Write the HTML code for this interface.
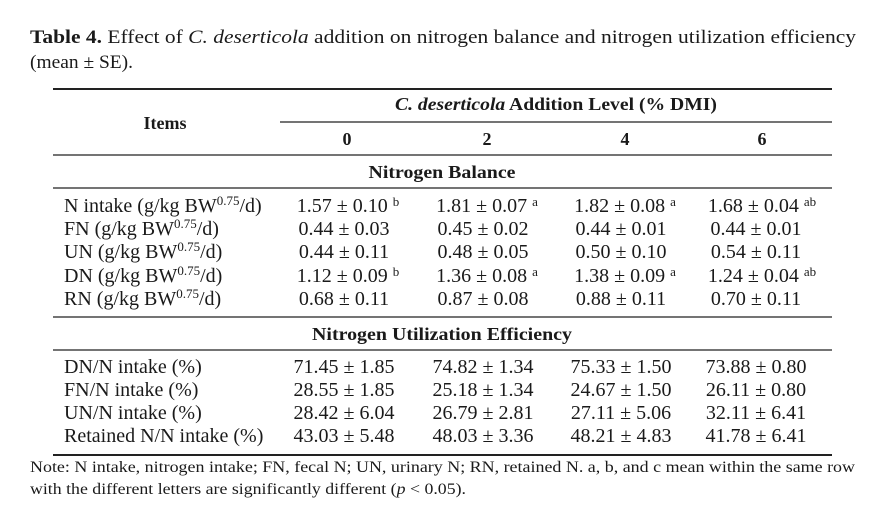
<!DOCTYPE html>
<html><head><meta charset="utf-8"><style>
html,body{margin:0;padding:0;background:#fff;}
svg{display:block;}
text{font-family:"Liberation Serif",serif;fill:#1a1a1a;}
</style></head><body>
<svg width="876" height="517" viewBox="0 0 876 517" xmlns="http://www.w3.org/2000/svg">
<g font-size="19">
<text x="30" y="43" textLength="826" lengthAdjust="spacingAndGlyphs"><tspan font-weight="bold">Table 4.</tspan>  Effect of <tspan font-style="italic">C. deserticola</tspan> addition on nitrogen balance and nitrogen utilization efficiency</text>
<text x="30" y="68" textLength="103" lengthAdjust="spacingAndGlyphs">(mean ± SE).</text>
</g>
<g stroke="#222">
<line x1="53" x2="832" y1="89" y2="89" stroke-width="2"/>
<line x1="280" x2="832" y1="122" y2="122" stroke-width="1.2"/>
<line x1="53" x2="832" y1="155" y2="155" stroke-width="1.2"/>
<line x1="53" x2="832" y1="188" y2="188" stroke-width="1.2"/>
<line x1="53" x2="832" y1="317" y2="317" stroke-width="1.2"/>
<line x1="53" x2="832" y1="350" y2="350" stroke-width="1.2"/>
<line x1="53" x2="832" y1="455" y2="455" stroke-width="2"/>
</g>
<g font-size="18" font-weight="bold" text-anchor="middle">
<text x="165" y="129">Items</text>
<text x="556" y="110" textLength="322" lengthAdjust="spacingAndGlyphs"><tspan font-style="italic">C. deserticola</tspan> Addition Level (% DMI)</text>
<text x="347" y="145">0</text><text x="487" y="145">2</text><text x="625" y="145">4</text><text x="762" y="145">6</text>
<text x="442" y="178" textLength="147" lengthAdjust="spacingAndGlyphs">Nitrogen Balance</text>
<text x="442" y="340" textLength="260" lengthAdjust="spacingAndGlyphs">Nitrogen Utilization Efficiency</text>
</g>
<g font-size="20">
<text x="64" y="212">N intake (g/kg BW<tspan font-size="13" dy="-7">0.75</tspan><tspan dy="7">/d)</tspan></text>
<text x="64" y="235">FN (g/kg BW<tspan font-size="13" dy="-7">0.75</tspan><tspan dy="7">/d)</tspan></text>
<text x="64" y="258">UN (g/kg BW<tspan font-size="13" dy="-7">0.75</tspan><tspan dy="7">/d)</tspan></text>
<text x="64" y="282">DN (g/kg BW<tspan font-size="13" dy="-7">0.75</tspan><tspan dy="7">/d)</tspan></text>
<text x="64" y="305">RN (g/kg BW<tspan font-size="13" dy="-7">0.75</tspan><tspan dy="7">/d)</tspan></text>
<text x="64" y="373">DN/N intake (%)</text>
<text x="64" y="396">FN/N intake (%)</text>
<text x="64" y="419">UN/N intake (%)</text>
<text x="64" y="442">Retained N/N intake (%)</text>
</g>
<g font-size="20" text-anchor="middle">
<text x="348" y="212">1.57 ± 0.10 <tspan font-size="13" dy="-6">b</tspan></text>
<text x="487" y="212">1.81 ± 0.07 <tspan font-size="13" dy="-6">a</tspan></text>
<text x="625" y="212">1.82 ± 0.08 <tspan font-size="13" dy="-6">a</tspan></text>
<text x="762" y="212">1.68 ± 0.04 <tspan font-size="13" dy="-6">ab</tspan></text>
<text x="344" y="235">0.44 ± 0.03</text><text x="483" y="235">0.45 ± 0.02</text><text x="621" y="235">0.44 ± 0.01</text><text x="756" y="235">0.44 ± 0.01</text>
<text x="344" y="258">0.44 ± 0.11</text><text x="483" y="258">0.48 ± 0.05</text><text x="621" y="258">0.50 ± 0.10</text><text x="756" y="258">0.54 ± 0.11</text>
<text x="348" y="282">1.12 ± 0.09 <tspan font-size="13" dy="-6">b</tspan></text>
<text x="487" y="282">1.36 ± 0.08 <tspan font-size="13" dy="-6">a</tspan></text>
<text x="625" y="282">1.38 ± 0.09 <tspan font-size="13" dy="-6">a</tspan></text>
<text x="762" y="282">1.24 ± 0.04 <tspan font-size="13" dy="-6">ab</tspan></text>
<text x="344" y="305">0.68 ± 0.11</text><text x="483" y="305">0.87 ± 0.08</text><text x="621" y="305">0.88 ± 0.11</text><text x="756" y="305">0.70 ± 0.11</text>
<text x="344" y="373">71.45 ± 1.85</text><text x="483" y="373">74.82 ± 1.34</text><text x="621" y="373">75.33 ± 1.50</text><text x="756" y="373">73.88 ± 0.80</text>
<text x="344" y="396">28.55 ± 1.85</text><text x="483" y="396">25.18 ± 1.34</text><text x="621" y="396">24.67 ± 1.50</text><text x="756" y="396">26.11 ± 0.80</text>
<text x="344" y="419">28.42 ± 6.04</text><text x="483" y="419">26.79 ± 2.81</text><text x="621" y="419">27.11 ± 5.06</text><text x="756" y="419">32.11 ± 6.41</text>
<text x="344" y="442">43.03 ± 5.48</text><text x="483" y="442">48.03 ± 3.36</text><text x="621" y="442">48.21 ± 4.83</text><text x="756" y="442">41.78 ± 6.41</text>
</g>
<g font-size="16">
<text x="30" y="472" textLength="825" lengthAdjust="spacingAndGlyphs">Note: N intake, nitrogen intake; FN, fecal N; UN, urinary N; RN, retained N. a, b, and c mean within the same row</text>
<text x="30" y="494" textLength="436" lengthAdjust="spacingAndGlyphs">with the different letters are significantly different (<tspan font-style="italic">p</tspan> &lt; 0.05).</text>
</g>
</svg>
</body></html>
